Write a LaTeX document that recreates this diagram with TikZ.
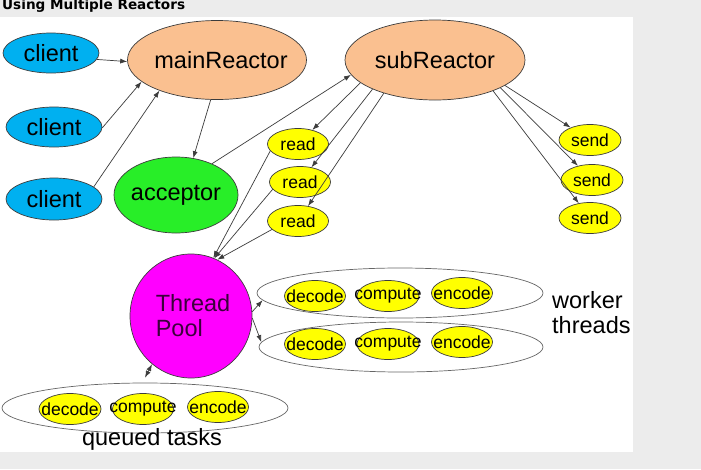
\documentclass[tikz,border=0pt]{standalone}
\usepackage{fontspec}
\setmainfont{Liberation Sans}
\newfontfamily\titlefont{DejaVu Sans}
\usetikzlibrary{shapes.geometric,arrows.meta}
\definecolor{bgc}{RGB}{236,236,236}
\definecolor{clientc}{RGB}{0,176,240}
\definecolor{peach}{RGB}{250,192,144}
\definecolor{greenc}{RGB}{40,238,40}
\definecolor{yel}{RGB}{255,255,0}
\definecolor{mag}{RGB}{255,0,255}
\definecolor{linec}{RGB}{60,60,60}
\definecolor{tptext}{RGB}{60,0,60}
\newcommand{\zb}[1]{\makebox[0pt]{#1}}
\begin{document}
\begin{tikzpicture}[x=1pt,y=-1pt,
  el/.style={ellipse,draw=linec,line width=0.7pt,inner sep=0pt},
  big/.style={font=\fontsize{23.5}{25}\selectfont},
  small/.style={font=\fontsize{17.5}{18}\selectfont},
  cl/.style={el,fill=clientc,big,minimum width=96pt,minimum height=40pt},
  reactor/.style={el,fill=peach,big,minimum width=179pt,minimum height=79pt},
  yelbox/.style={el,fill=yel,small,minimum width=61pt,minimum height=31pt},
  group/.style={el,draw=black!60,fill=white,minimum width=286pt,minimum height=50pt},
  conn/.style={draw=linec,line width=0.7pt,-{Latex[length=7pt,width=5pt]}},
  bconn/.style={draw=linec,line width=0.7pt,{Latex[length=7pt,width=5pt]}-{Latex[length=7pt,width=5pt]}}]
\useasboundingbox (0,0) rectangle (701,469);
\fill[bgc] (0,0) rectangle (701,469);
\fill[white] (0,17) rectangle (633,452);
\node[anchor=base west,inner sep=0pt,font=\titlefont\bfseries\fontsize{13.6}{14}\selectfont] (title) at (2,9.5) {Using Multiple Reactors};

% clients
\node[cl] (client1) at (51,53) {\zb{client}};
\node[cl] (client2) at (54,127) {\zb{client}};
\node[cl,minimum height=42pt] (client3) at (54,199) {\zb{client}};

% reactors
\node[reactor] (mainReactor) at (217,60) {\zb{\hspace*{8pt}mainReactor}};
\node[reactor,minimum width=180pt,minimum height=80pt] (subReactor) at (435,60) {\zb{subReactor}};
\node[el,fill=greenc,big,minimum width=124pt,minimum height=76pt] (acceptor) at (176,195) {\zb{acceptor}};

% read / send
\node[yelbox] (read1) at (298,144) {\zb{read}};
\node[yelbox] (read2) at (300,182) {\zb{read}};
\node[yelbox] (read3) at (298,221) {\zb{read}};
\node[yelbox,minimum width=62pt] (send1) at (590,140) {\zb{send}};
\node[yelbox,minimum width=62pt] (send2) at (592,180) {\zb{send}};
\node[yelbox,minimum width=62pt] (send3) at (590,218) {\zb{send}};

% thread pool
\node[el,fill=mag,minimum width=122pt,minimum height=124pt] (pool) at (191,316) {};
\node[big,text=tptext,align=left,inner sep=0pt] (pooltext) at (193,316) {Thread\\Pool};

% worker groups
\node[group] (worker1) at (400,293) {};
\node[group,minimum width=284pt] (worker2) at (401,347) {};
\node[yelbox] (w1dec) at (315,296) {\zb{decode}};
\node[yelbox,minimum width=62pt] (w1com) at (388,296) {\zb{compute}};
\node[yelbox] (w1enc) at (462,293) {\zb{encode}};
\node[yelbox] (w2dec) at (315,344) {\zb{decode}};
\node[yelbox,minimum width=62pt] (w2com) at (388,344) {\zb{compute}};
\node[yelbox] (w2enc) at (462,342) {\zb{encode}};
\node[big,anchor=base west,align=left,inner sep=0pt] (workerlbl) at (552,333) {worker\\threads};

% queued tasks
\node[group] (queued) at (145,408) {};
\node[yelbox,minimum width=62pt] (qdec) at (70,409) {\zb{decode}};
\node[yelbox] (qcom) at (143,409) {\zb{compute}};
\node[yelbox] (qenc) at (218,407) {\zb{encode}};
\node[big,anchor=base,inner sep=0pt] (queuedlbl) at (152,445) {queued tasks};

% connectors
\draw[conn] (client1.-8) -- (mainReactor.181);
\draw[conn] (client2.-1) -- (mainReactor.196);
\draw[conn] (client3.17) -- (mainReactor.208);
\draw[conn] (mainReactor.261) -- (acceptor.65);
\draw[conn] (acceptor.41) -- (subReactor.190);
\draw[conn] (subReactor.197) -- (read1);
\draw[conn] (subReactor.205) -- (read2);
\draw[conn] (subReactor.213) -- (read3);
\draw[conn] (subReactor.340) -- (send1);
\draw[conn] (subReactor.337) -- (send2);
\draw[conn] (subReactor.332) -- (send3);
\draw[conn] (read1.194) -- (pool.69);
\draw[conn] (read2.195) -- (pool.68);
\draw[conn] (read3.198) -- (pool.65);
\draw[conn] (pool.4) -- (worker1.183);
\draw[conn] (pool.-2) -- (worker2.178);
\draw[bconn] (pool.231) -- ([yshift=5pt]queued.north);
\end{tikzpicture}
\end{document}
